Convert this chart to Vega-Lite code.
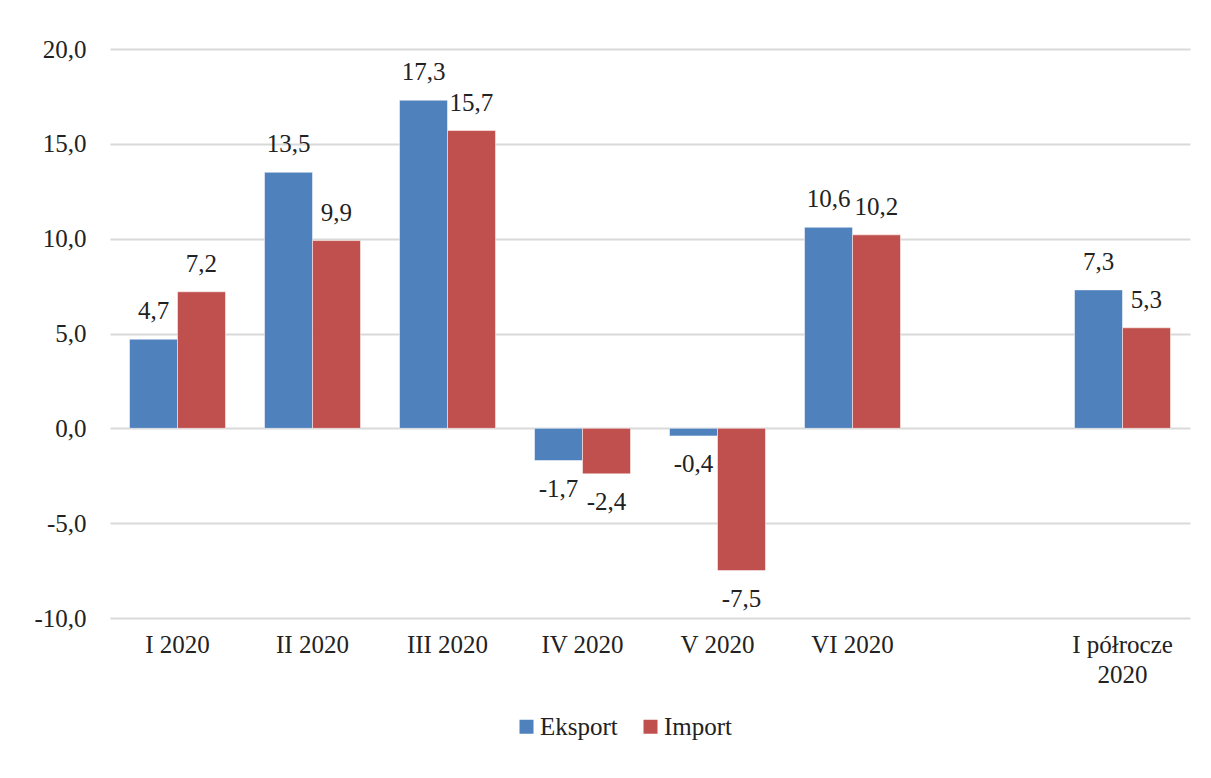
{
  "$schema": "https://vega.github.io/schema/vega-lite/v6.json",
  "width": 1080,
  "height": 569,
  "autosize": {"type": "none"},
  "padding": {"left": 110, "top": 49, "right": 21, "bottom": 160},
  "background": "white",
  "config": {
    "font": "Liberation Serif",
    "view": {"stroke": null},
    "axis": {"labelFont": "Liberation Serif"},
    "legend": {"labelFont": "Liberation Serif"},
    "text": {"font": "Liberation Serif"},
    "locale": {"number": {"decimal": ",", "thousands": " ", "grouping": [3], "currency": ["", " zł"], "minus": "-"}}
  },
  "data": {
    "values": [
      {"month": "I 2020", "series": "Eksport", "value": 4.7},
      {"month": "I 2020", "series": "Import", "value": 7.2},
      {"month": "II 2020", "series": "Eksport", "value": 13.5},
      {"month": "II 2020", "series": "Import", "value": 9.9},
      {"month": "III 2020", "series": "Eksport", "value": 17.3},
      {"month": "III 2020", "series": "Import", "value": 15.7},
      {"month": "IV 2020", "series": "Eksport", "value": -1.7},
      {"month": "IV 2020", "series": "Import", "value": -2.4},
      {"month": "V 2020", "series": "Eksport", "value": -0.4},
      {"month": "V 2020", "series": "Import", "value": -7.5},
      {"month": "VI 2020", "series": "Eksport", "value": 10.6},
      {"month": "VI 2020", "series": "Import", "value": 10.2},
      {"month": "I półrocze 2020", "series": "Eksport", "value": 7.3},
      {"month": "I półrocze 2020", "series": "Import", "value": 5.3}
    ]
  },
  "encoding": {
    "x": {
      "field": "month",
      "type": "nominal",
      "sort": null,
      "scale": {
        "domain": ["I 2020", "II 2020", "III 2020", "IV 2020", "V 2020", "VI 2020", " ", "I półrocze 2020"],
        "paddingInner": 0.289,
        "paddingOuter": 0.1445
      },
      "axis": {
        "title": null,
        "labelAngle": 0,
        "domain": false,
        "ticks": false,
        "labelFont": "Liberation Serif",
        "labelFontSize": 25,
        "labelColor": "#222222",
        "labelPadding": 14,
        "labelBaseline": "top",
        "labelLineHeight": 30,
        "labelExpr": "datum.label == 'I półrocze 2020' ? ['I półrocze', '2020'] : datum.label"
      }
    },
    "xOffset": {
      "field": "series",
      "type": "nominal",
      "scale": {"domain": ["Eksport", "Import"], "paddingInner": 0, "paddingOuter": 0}
    },
    "y": {
      "field": "value",
      "type": "quantitative",
      "scale": {"domain": [-10, 20], "nice": false, "zero": false},
      "axis": {
        "title": null,
        "values": [-10, -5, 0, 5, 10, 15, 20],
        "format": ".1f",
        "domain": false,
        "ticks": false,
        "labelFont": "Liberation Serif",
        "labelFontSize": 25,
        "labelColor": "#222222",
        "labelPadding": 24,
        "gridColor": "#d9d9d9",
        "gridWidth": 2
      }
    }
  },
  "layer": [
    {
      "mark": {"type": "bar", "stroke": "white", "strokeWidth": 0.5},
      "encoding": {
        "color": {
          "field": "series",
          "type": "nominal",
          "scale": {"domain": ["Eksport", "Import"], "range": ["#4F81BD", "#C0504D"]},
          "legend": {
            "title": null,
            "orient": "none",
            "legendX": 404,
            "legendY": 665,
            "direction": "horizontal",
            "symbolType": "square",
            "symbolSize": 196,
            "symbolStrokeWidth": 0,
            "labelFont": "Liberation Serif",
            "labelFontSize": 25,
            "labelColor": "#222222",
            "labelOffset": 1,
            "columnPadding": 20,
            "padding": 0
          }
        }
      }
    },
    {
      "transform": [{"filter": "datum.value >= 0"}],
      "mark": {"type": "text", "font": "Liberation Serif", "baseline": "alphabetic", "dy": -20, "fontSize": 25, "color": "#222222"},
      "encoding": {"text": {"field": "value", "type": "quantitative", "format": ".1f"}}
    },
    {
      "transform": [{"filter": "datum.value < 0"}],
      "mark": {"type": "text", "font": "Liberation Serif", "baseline": "top", "dy": 16, "fontSize": 25, "color": "#222222"},
      "encoding": {"text": {"field": "value", "type": "quantitative", "format": ".1f"}}
    }
  ]
}
